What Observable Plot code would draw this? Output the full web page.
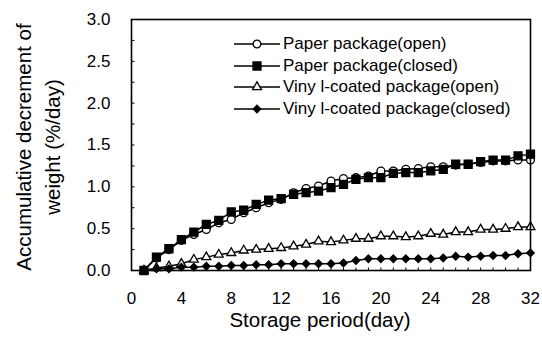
<!DOCTYPE html>
<html>
<head>
<meta charset="utf-8">
<script src="https://cdn.jsdelivr.net/npm/d3@7"></script>
<script src="https://cdn.jsdelivr.net/npm/@observablehq/plot@0.6"></script>
<style>
  html, body { margin: 0; padding: 0; background: #fff; }
  #wrap { position: relative; width: 542px; height: 343px; font-family: "Liberation Sans", Arial, sans-serif; }
  #legend { position: absolute; left: 233px; top: 33px; font-size: 17px; color: #000; }
  .row { display: flex; align-items: center; height: 21.8px; white-space: nowrap; }
  .row svg { display: block; margin-right: 2px; }
</style>
</head>
<body>
<div id="wrap"><div id="legend"></div></div>
<script>
const days = [1,2,3,4,5,6,7,8,9,10,11,12,13,14,15,16,17,18,19,20,21,22,23,24,25,26,27,28,29,30,31,32];
const paperOpen   = [0,0.15,0.25,0.36,0.43,0.49,0.57,0.61,0.69,0.75,0.81,0.85,0.93,0.98,1.01,1.07,1.10,1.11,1.13,1.19,1.19,1.21,1.22,1.24,1.24,1.26,1.27,1.29,1.31,1.31,1.32,1.32];
const paperClosed = [0,0.16,0.26,0.37,0.46,0.55,0.60,0.70,0.72,0.79,0.84,0.86,0.91,0.93,0.95,0.99,1.03,1.09,1.11,1.11,1.16,1.17,1.17,1.19,1.21,1.27,1.27,1.30,1.32,1.32,1.37,1.39];
const vinylOpen   = [0,0.03,0.05,0.08,0.13,0.16,0.19,0.21,0.24,0.25,0.26,0.27,0.29,0.31,0.35,0.34,0.36,0.38,0.38,0.41,0.41,0.40,0.41,0.44,0.43,0.46,0.46,0.49,0.49,0.50,0.52,0.52];
const vinylClosed = [0,0.02,0.02,0.04,0.04,0.05,0.05,0.06,0.06,0.07,0.07,0.08,0.08,0.08,0.08,0.08,0.09,0.12,0.14,0.14,0.14,0.14,0.14,0.14,0.15,0.17,0.16,0.17,0.18,0.18,0.20,0.21];
const seriesNames = ["Paper package(open)", "Paper package(closed)", "Viny l-coated package(open)", "Viny l-coated package(closed)"];
const xTicks = [0,4,8,12,16,20,24,28,32];
const yTicks = [0,0.5,1,1.5,2,2.5,3];
const yMinorTicks = [0.25,0.5,0.75,1,1.25,1.5,1.75,2,2.25,2.5,2.75];
const xMinorTicks = [1,2,3,4,5,6,7,8,9,10,11,12,13,14,15,16,17,18,19,20,21,22,23,24,25,26,27,28,29,30,31];
const xTitle = "Storage period(day)";
const yTitle = "Accumulative decrement of\nweight (%/day)";

const styles = [
  {name: seriesNames[0], values: paperOpen,   symbol: "circle",   fill: "white", r: 3.9},
  {name: seriesNames[2], values: vinylOpen,   symbol: "triangle", fill: "white", r: 3.3},
  {name: seriesNames[3], values: vinylClosed, symbol: "diamond2", fill: "black", r: 3.4},
  {name: seriesNames[1], values: paperClosed, symbol: "square",   fill: "black", r: 4.5}
];

const vTick = {draw(ctx) { ctx.moveTo(0, 0); ctx.lineTo(0, -3); }};
const hTick = {draw(ctx) { ctx.moveTo(0, 0); ctx.lineTo(3, 0); }};

const marks = [];
marks.push(Plot.dot(xMinorTicks, {x: d => d, y: () => 0, symbol: vTick, stroke: "black", strokeWidth: 1, r: 3}));
marks.push(Plot.dot(yMinorTicks, {x: () => 0, y: d => d, symbol: hTick, stroke: "black", strokeWidth: 1, r: 3}));
for (const s of styles) {
  const data = days.map((d, i) => ({day: d, v: s.values[i]}));
  marks.push(Plot.line(data, {x: "day", y: "v", stroke: "black", strokeWidth: 1.5}));
}
for (const s of styles) {
  const data = days.map((d, i) => ({day: d, v: s.values[i]}));
  marks.push(Plot.dot(data, {x: "day", y: "v", symbol: s.symbol, r: s.r, fill: s.fill, stroke: "black", strokeWidth: 1.3}));
}
marks.push(Plot.frame({stroke: "black", strokeWidth: 1.6}));
marks.push(Plot.axisX({ticks: xTicks, tickSize: 0, tickPadding: 21, label: null, fontSize: 17}));
marks.push(Plot.axisY({ticks: yTicks, tickSize: 0, tickPadding: 21, tickFormat: d3.format(".1f"), label: null, fontSize: 17}));
marks.push(Plot.text([xTitle], {text: d => d, frameAnchor: "bottom", lineAnchor: "middle", textAnchor: "middle", dy: 50, dx: -11, fontSize: 20.5}));
marks.push(Plot.text([yTitle], {text: d => d, frameAnchor: "left", textAnchor: "middle", lineAnchor: "middle", rotate: -90, dx: -95, dy: 2, fontSize: 20.5, lineHeight: 1.37}));

const chart = Plot.plot({
  width: 542, height: 343,
  marginLeft: 131, marginRight: 12, marginTop: 19, marginBottom: 73,
  style: {fontFamily: "Liberation Sans, Arial, sans-serif", color: "black", background: "white", overflow: "visible"},
  x: {domain: [0, 32]},
  y: {domain: [0, 3]},
  marks
});
const wrap = document.getElementById("wrap");
wrap.insertBefore(chart, wrap.firstChild);

// legend
const legendOrder = [
  {name: seriesNames[0], symbol: d3.symbolCircle, fill: "white", r: 3.9},
  {name: seriesNames[1], symbol: d3.symbolSquare, fill: "black", r: 4.5},
  {name: seriesNames[2], symbol: d3.symbolTriangle, fill: "white", r: 3.3},
  {name: seriesNames[3], symbol: d3.symbolDiamond2, fill: "black", r: 3.4}
];
const legend = d3.select("#legend");
for (const e of legendOrder) {
  const row = legend.append("div").attr("class", "row");
  const svg = row.append("svg").attr("width", 48).attr("height", 16);
  svg.append("line").attr("x1", 1).attr("x2", 47).attr("y1", 8).attr("y2", 8).attr("stroke", "black").attr("stroke-width", 1.5);
  svg.append("path").attr("d", d3.symbol(e.symbol, Math.PI * e.r * e.r)()).attr("transform", "translate(24,8)")
    .attr("fill", e.fill).attr("stroke", "black").attr("stroke-width", 1.3);
  row.append("span").text(e.name);
}
</script>
</body>
</html>
